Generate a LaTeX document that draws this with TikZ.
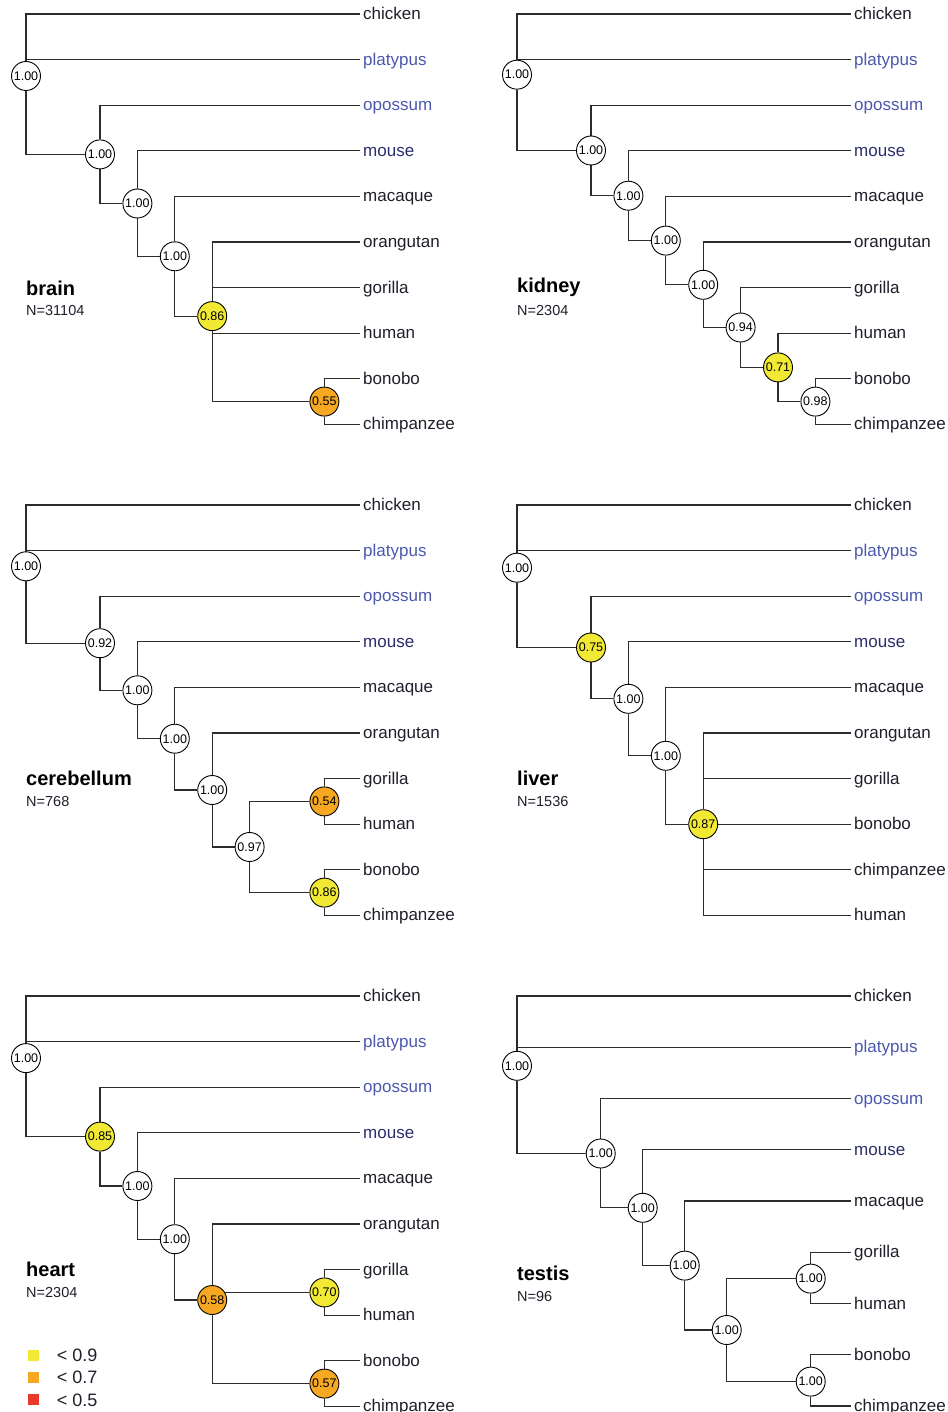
\documentclass[tikz,border=0pt]{standalone}
\usepackage{fontspec}
\setmainfont{Liberation Sans}
\usetikzlibrary{positioning}
\definecolor{ink}{HTML}{1F1F2B}
\definecolor{basal}{HTML}{4A58AE}
\definecolor{murine}{HTML}{2B2D6A}
\definecolor{branch}{HTML}{2B2B2B}
\definecolor{lowyel}{HTML}{F1E934}
\definecolor{lowora}{HTML}{F6A823}
\definecolor{lowred}{HTML}{E8392A}
\pgfdeclarelayer{back}
\pgfsetlayers{back,main}
\newcommand\taxa{chicken/ink,platypus/basal,opossum/basal,mouse/murine,macaque/ink,orangutan/ink,gorilla/ink,human/ink,bonobo/ink,chimpanzee/ink}

\begin{document}
\begin{tikzpicture}[x=1pt, y=-1pt,
    leaf/.style={anchor=west, inner xsep=3pt, inner ysep=0pt, text height=11pt,
                 text depth=0pt, font=\fontsize{17}{19}\selectfont},
    supp/.style={circle, draw=black, line width=0.9pt, fill=white, minimum size=29pt,
                 inner sep=0pt, text=black, font=\fontsize{12.5}{14}\selectfont},
    weak/.style={supp, fill=lowyel},
    poor/.style={supp, fill=lowora},
    br/.style={draw=branch, line width=1.1pt},
    tissue/.style={anchor=base west, inner sep=0pt, font=\fontsize{20}{22}\selectfont\bfseries},
    cnt/.style={anchor=base west, inner sep=0pt, text=ink, font=\fontsize{14.5}{16}\selectfont},
    key/.style={minimum size=11pt, inner sep=0pt},
    keytext/.style={inner sep=0pt, text height=12.6pt, text depth=0pt, text=ink,
                    font=\fontsize{18}{20}\selectfont}]
  \useasboundingbox (0,0) rectangle (947,1412);

  % brain
  \begin{scope}[name prefix=br-]
    \foreach \t/\c [count=\i from 0] in \taxa
      \node[leaf, text=\c] (\t) at (360,{14+45.6*\i}) {\t};
    \node[supp] (r1) at (26,76) {1.00};
    \node[supp] (r2) at (100,154.4) {1.00};
    \node[supp] (r3) at (137.4,203.5) {1.00};
    \node[supp] (r4) at (174.8,256.3) {1.00};
    \node[weak] (r5) at (212.2,316.1) {0.86};
    \node[poor] (r6) at (324.4,401.6) {0.55};
    \node[tissue] (ti) at (26,295) {brain};
    \node[cnt] (n) at (26,316) {N=31104};
    \begin{pgfonlayer}{back}
      \draw[br] (r1) |- (chicken.west) (r1) |- (platypus.west) (r1) |- (r2)
        (r2) |- (opossum.west) (r2) |- (r3) (r3) |- (mouse.west) (r3) |- (r4)
        (r4) |- (macaque.west) (r4) |- (r5)
        (r5) |- (orangutan.west) (r5) |- (gorilla.west) (r5) |- (human.west) (r5) |- (r6)
        (r6) |- (bonobo.west) (r6) |- (chimpanzee.west);
    \end{pgfonlayer}
  \end{scope}

  % kidney
  \begin{scope}[shift={(491,0)}, name prefix=ki-]
    \foreach \t/\c [count=\i from 0] in \taxa
      \node[leaf, text=\c] (\t) at (360,{14+45.6*\i}) {\t};
    \node[supp] (r1) at (26,74.7) {1.00};
    \node[supp] (r2) at (100,150.5) {1.00};
    \node[supp] (r3) at (137.4,195.7) {1.00};
    \node[supp] (r4) at (174.8,240.6) {1.00};
    \node[supp] (r5) at (212.2,284.8) {1.00};
    \node[supp] (r6) at (249.6,327.5) {0.94};
    \node[weak] (r7) at (287,367.4) {0.71};
    \node[supp] (r8) at (324.4,401.6) {0.98};
    \node[tissue] (ti) at (26,292.5) {kidney};
    \node[cnt] (n) at (26,316) {N=2304};
    \begin{pgfonlayer}{back}
      \draw[br] (r1) |- (chicken.west) (r1) |- (platypus.west) (r1) |- (r2)
        (r2) |- (opossum.west) (r2) |- (r3) (r3) |- (mouse.west) (r3) |- (r4)
        (r4) |- (macaque.west) (r4) |- (r5) (r5) |- (orangutan.west) (r5) |- (r6)
        (r6) |- (gorilla.west) (r6) |- (r7) (r7) |- (human.west) (r7) |- (r8)
        (r8) |- (bonobo.west) (r8) |- (chimpanzee.west);
    \end{pgfonlayer}
  \end{scope}

  % cerebellum
  \begin{scope}[shift={(0,491)}, name prefix=ce-]
    \foreach \t/\c [count=\i from 0] in \taxa
      \node[leaf, text=\c] (\t) at (360,{14+45.6*\i}) {\t};
    \node[supp] (r1) at (26,75.3) {1.00};
    \node[supp] (r2) at (100,152.2) {0.92};
    \node[supp] (r3) at (137.4,199.3) {1.00};
    \node[supp] (r4) at (174.8,247.7) {1.00};
    \node[supp] (r5) at (212.2,299) {1.00};
    \node[supp] (r6) at (249.6,356) {0.97};
    \node[poor] (r7) at (324.4,310.4) {0.54};
    \node[weak] (r8) at (324.4,401.6) {0.86};
    \node[tissue] (ti) at (26,294.7) {cerebellum};
    \node[cnt] (n) at (26,315.7) {N=768};
    \begin{pgfonlayer}{back}
      \draw[br] (r1) |- (chicken.west) (r1) |- (platypus.west) (r1) |- (r2)
        (r2) |- (opossum.west) (r2) |- (r3) (r3) |- (mouse.west) (r3) |- (r4)
        (r4) |- (macaque.west) (r4) |- (r5) (r5) |- (orangutan.west) (r5) |- (r6)
        (r6) |- (r7) (r6) |- (r8)
        (r7) |- (gorilla.west) (r7) |- (human.west)
        (r8) |- (bonobo.west) (r8) |- (chimpanzee.west);
    \end{pgfonlayer}
  \end{scope}

  % liver
  \begin{scope}[shift={(491,491)}, name prefix=li-]
    \foreach \t/\c [count=\i from 0] in {chicken/ink,platypus/basal,opossum/basal,
        mouse/murine,macaque/ink,orangutan/ink,gorilla/ink,bonobo/ink,chimpanzee/ink,human/ink}
      \node[leaf, text=\c] (\t) at (360,{14+45.6*\i}) {\t};
    \node[supp] (r1) at (26,76.7) {1.00};
    \node[weak] (r2) at (100,156.5) {0.75};
    \node[supp] (r3) at (137.4,207.8) {1.00};
    \node[supp] (r4) at (174.8,264.8) {1.00};
    \node[weak] (r5) at (212.2,333.2) {0.87};
    \node[tissue] (ti) at (26,294.7) {liver};
    \node[cnt] (n) at (26,315.7) {N=1536};
    \begin{pgfonlayer}{back}
      \draw[br] (r1) |- (chicken.west) (r1) |- (platypus.west) (r1) |- (r2)
        (r2) |- (opossum.west) (r2) |- (r3) (r3) |- (mouse.west) (r3) |- (r4)
        (r4) |- (macaque.west) (r4) |- (r5)
        (r5) |- (orangutan.west) (r5) |- (gorilla.west) (r5) |- (bonobo.west)
        (r5) |- (chimpanzee.west) (r5) |- (human.west);
    \end{pgfonlayer}
  \end{scope}

  % heart
  \begin{scope}[shift={(0,982)}, name prefix=he-]
    \foreach \t/\c [count=\i from 0] in \taxa
      \node[leaf, text=\c] (\t) at (360,{14+45.6*\i}) {\t};
    \node[supp] (r1) at (26,76.1) {1.00};
    \node[weak] (r2) at (100,154.6) {0.85};
    \node[supp] (r3) at (137.4,204) {1.00};
    \node[supp] (r4) at (174.8,257.2) {1.00};
    \node[poor] (r5) at (212.2,318) {0.58};
    \node[weak] (r6) at (324.4,310.4) {0.70};
    \node[poor] (r7) at (324.4,401.6) {0.57};
    \node[tissue] (ti) at (26,294) {heart};
    \node[cnt] (n) at (26,315.3) {N=2304};
    \begin{pgfonlayer}{back}
      \draw[br] (r1) |- (chicken.west) (r1) |- (platypus.west) (r1) |- (r2)
        (r2) |- (opossum.west) (r2) |- (r3) (r3) |- (mouse.west) (r3) |- (r4)
        (r4) |- (macaque.west) (r4) |- (r5)
        (r5) |- (orangutan.west) (r5) |- (r6) (r5) |- (r7)
        (r6) |- (gorilla.west) (r6) |- (human.west)
        (r7) |- (bonobo.west) (r7) |- (chimpanzee.west);
    \end{pgfonlayer}
    % colour key
    \node[key, fill=lowyel] (k9) at (33,373.5) {};
    \node[key, fill=lowora] (k7) at (33,395.5) {};
    \node[key, fill=lowred] (k5) at (33,417.7) {};
    \node[keytext, right=18pt of k9] {< 0.9};
    \node[keytext, right=18pt of k7] {< 0.7};
    \node[keytext, right=18pt of k5] {< 0.5};
  \end{scope}

  % testis
  \begin{scope}[shift={(491,982)}, name prefix=te-]
    \foreach \t/\c [count=\i from 0] in {chicken/ink,platypus/basal,opossum/basal,
        mouse/murine,macaque/ink,gorilla/ink,human/ink,bonobo/ink,chimpanzee/ink}
      \node[leaf, text=\c] (\t) at (360,{14+51.25*\i}) {\t};
    \node[supp] (r1) at (26,83.8) {1.00};
    \node[supp] (r2) at (109.7,171.5) {1.00};
    \node[supp] (r3) at (151.7,225.8) {1.00};
    \node[supp] (r4) at (193.7,283.6) {1.00};
    \node[supp] (r5) at (235.7,348) {1.00};
    \node[supp] (r6) at (319.7,296.6) {1.00};
    \node[supp] (r7) at (319.7,399.6) {1.00};
    \node[tissue] (ti) at (26,298.7) {testis};
    \node[cnt] (n) at (26,319.7) {N=96};
    \begin{pgfonlayer}{back}
      \draw[br] (r1) |- (chicken.west) (r1) |- (platypus.west) (r1) |- (r2)
        (r2) |- (opossum.west) (r2) |- (r3) (r3) |- (mouse.west) (r3) |- (r4)
        (r4) |- (macaque.west) (r4) |- (r5) (r5) |- (r6) (r5) |- (r7)
        (r6) |- (gorilla.west) (r6) |- (human.west)
        (r7) |- (bonobo.west) (r7) |- (chimpanzee.west);
    \end{pgfonlayer}
  \end{scope}
\end{tikzpicture}
\end{document}
